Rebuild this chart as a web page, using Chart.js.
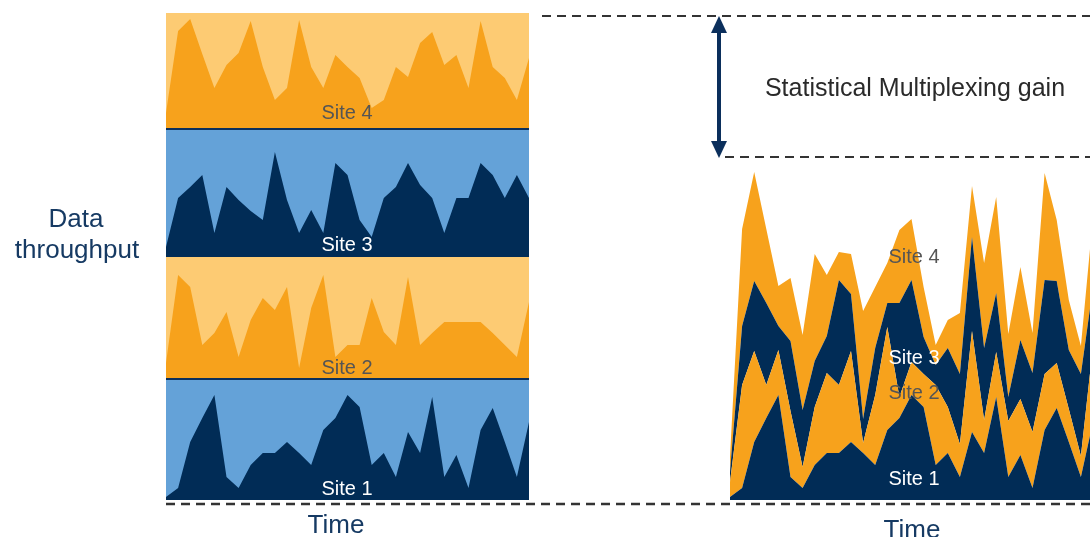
<!DOCTYPE html>
<html>
<head>
<meta charset="utf-8">
<script src="https://cdn.jsdelivr.net/npm/chart.js"></script>
<style>
  html, body { margin:0; padding:0; background:#fff; }
  #wrap { position:relative; width:1090px; height:537px; overflow:hidden; background:#fff; font-family:"Liberation Sans", Arial, Helvetica, sans-serif; }
  canvas { position:absolute; display:block; }
  .lbl { position:absolute; transform:translate(-50%,-50%); white-space:nowrap; line-height:1; }
  .site { font-size:20px; }
  .dark { color:#555; }
  .light { color:#fff; }
  .axis { color:#163a63; font-size:26px; }
  .sep { position:absolute; background:#0b2f5c; }
  svg { position:absolute; left:0; top:0; }
</style>
</head>
<body>
<div id="wrap">
  <canvas id="b4" width="363" height="115" style="left:166px;top:13px"></canvas>
  <canvas id="b3" width="363" height="127" style="left:166px;top:130px"></canvas>
  <canvas id="b2" width="363" height="121" style="left:166px;top:257px"></canvas>
  <canvas id="b1" width="363" height="120" style="left:166px;top:380px"></canvas>
  <div class="sep" style="left:166px;top:128px;width:363px;height:2px"></div>
  <div class="sep" style="left:166px;top:378px;width:363px;height:2px"></div>
  <canvas id="right" width="363" height="360" style="left:730px;top:140px"></canvas>

  <svg width="1090" height="537">
    <g stroke="#333" stroke-width="2" stroke-dasharray="9 6" fill="none">
      <line x1="542" y1="16" x2="1090" y2="16"/>
      <line x1="725" y1="157" x2="1090" y2="157"/>
      <line x1="166" y1="504" x2="1090" y2="504" stroke-width="2.5"/>
    </g>
    <line x1="719" y1="30" x2="719" y2="144" stroke="#0b2f5c" stroke-width="4"/>
    <polygon points="719,16 711,33 727,33" fill="#0b2f5c"/>
    <polygon points="719,158 711,141 727,141" fill="#0b2f5c"/>
  </svg>

  <div class="lbl site dark" style="left:347px;top:112px">Site 4</div>
  <div class="lbl site light" style="left:347px;top:244px">Site 3</div>
  <div class="lbl site dark" style="left:347px;top:367px">Site 2</div>
  <div class="lbl site light" style="left:347px;top:488px">Site 1</div>

  <div class="lbl site dark" style="left:914px;top:256px">Site 4</div>
  <div class="lbl site light" style="left:914px;top:357px">Site 3</div>
  <div class="lbl site dark" style="left:914px;top:392px">Site 2</div>
  <div class="lbl site light" style="left:914px;top:478px">Site 1</div>

  <div class="lbl axis" style="left:76px;top:218px">Data</div>
  <div class="lbl axis" style="left:77px;top:249px">throughput</div>
  <div class="lbl axis" style="left:336px;top:524px">Time</div>
  <div class="lbl axis" style="left:912px;top:529px">Time</div>
  <div class="lbl" style="left:915px;top:87px;font-size:25px;color:#2a2a2a">Statistical Multiplexing gain</div>
</div>

<script>
// time steps (categories)
const timeSteps = ["t0","t1","t2","t3","t4","t5","t6","t7","t8","t9","t10","t11","t12","t13","t14","t15",
                   "t16","t17","t18","t19","t20","t21","t22","t23","t24","t25","t26","t27","t28","t29","t30"];

// data throughput per site
const site1 = [3,12,58,82,105,23,12,35,47,47,58,47,35,70,82,105,93,35,47,23,68,47,103,23,45,12,70,92,58,23,78];
const site2 = [15,103,91,33,45,66,21,58,80,68,91,10,70,103,21,33,33,80,46,33,101,33,45,56,56,56,56,45,33,21,76];
const site3 = [10,59,70,82,24,70,57,46,37,105,57,24,47,24,94,82,37,20,59,70,94,72,59,24,59,59,94,82,59,82,59];
const site4 = [15,97,109,74,40,63,75,107,61,28,40,108,61,40,73,61,50,20,28,61,51,85,96,63,73,40,107,61,50,28,70];

const ORANGE = '#f7a21c', LIGHT_ORANGE = '#fdcb73', NAVY = '#012c56', LIGHT_BLUE = '#64a2d8';

const bgPlugin = {
  id: 'bg',
  beforeDraw(chart, args, opts) {
    if (!opts || !opts.color) return;
    const {ctx, chartArea: {left, top, width, height}} = chart;
    ctx.save();
    ctx.fillStyle = opts.color;
    ctx.fillRect(left, top, width, height);
    ctx.restore();
  }
};

function baseOptions(max, stacked, bg) {
  return {
    responsive: false,
    animation: false,
    devicePixelRatio: 1,
    events: [],
    layout: { padding: 0 },
    plugins: { legend: { display: false }, tooltip: { enabled: false }, bg: { color: bg } },
    scales: {
      x: { display: false, offset: false },
      y: { display: false, min: 0, max: max, stacked: stacked }
    }
  };
}

function ds(data, color, fill) {
  return { data: data, fill: fill, backgroundColor: color, borderColor: 'rgba(0,0,0,0)', borderWidth: 0, pointRadius: 0, tension: 0 };
}

function band(id, data, max, color, bg) {
  new Chart(document.getElementById(id), {
    type: 'line',
    data: { labels: timeSteps, datasets: [ds(data, color, 'origin')] },
    options: baseOptions(max, false, bg),
    plugins: [bgPlugin]
  });
}

band('b4', site4, 115, ORANGE, LIGHT_ORANGE);
band('b3', site3, 127, NAVY, LIGHT_BLUE);
band('b2', site2, 121, ORANGE, LIGHT_ORANGE);
band('b1', site1, 120, NAVY, LIGHT_BLUE);

new Chart(document.getElementById('right'), {
  type: 'line',
  data: {
    labels: timeSteps,
    datasets: [
      ds(site1, NAVY, 'origin'),
      ds(site2, ORANGE, '-1'),
      ds(site3, NAVY, '-1'),
      ds(site4, ORANGE, '-1')
    ]
  },
  options: baseOptions(360, true, null),
  plugins: [bgPlugin]
});
</script>
</body>
</html>
